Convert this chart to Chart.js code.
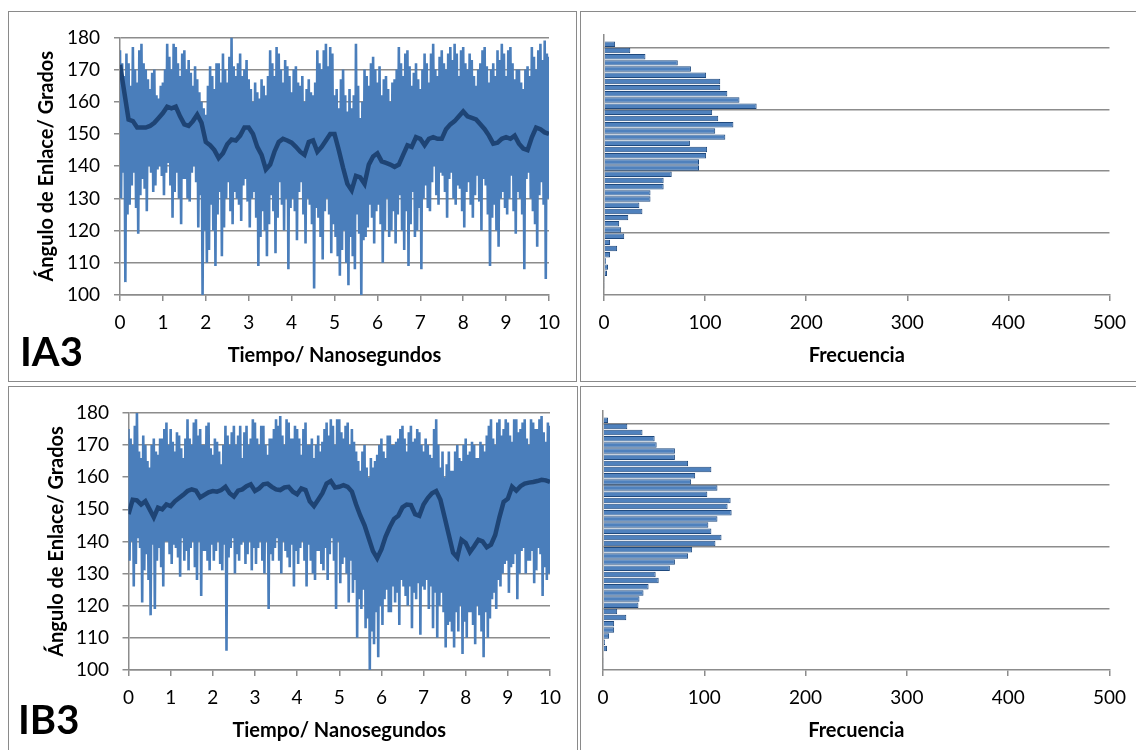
<!DOCTYPE html>
<html><head><meta charset="utf-8">
<script src="https://cdn.jsdelivr.net/npm/chart.js@4.4.0/dist/chart.umd.min.js"></script>
<style>
html,body{margin:0;padding:0;background:#fff;width:1136px;height:750px;overflow:hidden;}
.panel{position:absolute;border:1.5px solid #8a8a8a;box-sizing:border-box;}
canvas{position:absolute;}
.tag{position:absolute;font-family:Lato;font-weight:700;font-size:40px;line-height:1;color:#000;}
</style></head><body>
<div class="panel" style="left:8px;top:11px;width:569px;height:371px"></div>
<div class="panel" style="left:580px;top:11px;width:570px;height:371px"></div>
<div class="panel" style="left:8px;top:386px;width:570px;height:380px"></div>
<div class="panel" style="left:580px;top:386px;width:570px;height:380px"></div>
<canvas id="cA" width="567" height="369" style="left:9px;top:12px"></canvas>
<canvas id="cB" width="554" height="369" style="left:582px;top:12px"></canvas>
<canvas id="cC" width="568" height="362" style="left:9px;top:388px"></canvas>
<canvas id="cD" width="554" height="362" style="left:582px;top:388px"></canvas>
<div class="tag" style="left:20px;top:331px">IA3</div>
<div class="tag" style="left:18px;top:699px">IB3</div>
<script>
// ---- Time series IA3 (ns 0..10): peaks/troughs read every 0.1 ns (4 samples per 0.1 ns) ----
const IA3_hi = [176,168,172,177,166,178,170,164,170,161,
  166,178,170,177,168,176,173,165,167,160,
  156,171,164,172,175,166,180,168,175,170,
  167,160,163,167,162,176,168,175,166,171,
  163,171,165,160,167,162,176,170,178,177,
  162,158,170,157,158,178,155,170,165,174,
  166,162,168,160,167,177,168,176,165,172,
  164,175,166,178,168,176,170,177,178,168,
  177,170,173,165,172,177,166,172,176,178,
  168,177,167,170,164,171,177,170,178,179,
  174];
const IA3_lo = [130,104,128,138,119,136,126,138,134,140,
  131,141,124,138,122,136,129,140,121,100,
  110,128,109,132,121,135,122,130,123,136,
  121,132,109,126,112,131,113,135,120,108,
  130,117,135,116,128,102,124,111,130,113,
  118,106,120,103,112,125,100,118,128,116,
  128,110,130,120,116,131,114,109,132,120,
  108,134,126,140,128,137,124,138,128,133,
  121,135,124,137,120,134,109,128,115,132,
  125,137,119,130,108,138,126,115,135,105];
const IA3_hi2 = [172,175,165,170,176,172,167,169,162,165,
  170,174,178,172,175,170,169,171,163,158,
  165,168,172,166,170,174,171,172,168,173,
  164,166,161,165,168,172,177,170,173,168,
  170,166,168,164,163,166,172,176,171,175,
  164,167,162,164,162,165,160,168,172,170,
  171,167,164,166,170,172,175,171,169,167,
  170,172,175,170,174,172,175,173,175,176,
  172,175,168,170,176,171,170,168,173,175,
  176,172,170,166,170,168,174,176,173,175];
const IA3_lo2 = [138,125,134,127,131,133,140,132,139,137,
  138,134,132,130,136,130,138,135,131,120,
  114,120,125,112,130,126,132,128,134,129,
  130,124,118,120,122,126,124,128,130,127,
  126,132,125,130,122,127,118,126,125,122,
  112,114,110,118,108,119,117,121,124,126,
  122,120,118,126,125,120,126,122,118,127,
  130,127,135,131,138,132,136,130,134,126,
  132,128,131,129,136,125,124,120,130,127,
  130,126,132,125,136,130,122,131,128,130];
const IA3_avg = [171.5,163,154.5,154,152,152,152,152.5,153.5,155,
  156.5,158.5,158,158.5,155.5,153,152.5,154,156,153.5,
  147.5,146.5,145,142.5,144,146.8,148.3,148,149.5,152,
  152,150,146,143.5,139,140.5,144.5,147.5,148.5,148,
  147.3,146,144.5,143.5,147.5,148,144.5,146,148,150,
  150,145,139.5,134.5,132.5,137,136.5,134.5,140.5,143,
  144,141.5,141,140.5,139.8,140.5,143.5,146.5,146,149,
  148.5,146.5,148.5,149,148.5,148.5,151.5,153,154,155.5,
  157,155.5,155,154.5,153,151.5,149.5,147,147.3,148.5,
  149,148.5,149.5,147,145.5,145,149,152,151.5,150.5,
  150];
// ---- Time series IB3 ----
const IB3_hi = [175,170,180,166,170,163,172,167,172,177,
  175,168,173,166,178,170,178,175,170,177,
  167,171,164,176,170,176,173,166,176,172,
  177,170,176,167,172,178,179,170,177,172,
  175,167,177,170,166,173,171,177,178,170,
  178,172,177,175,168,162,170,160,163,167,
  172,166,173,170,172,176,168,176,172,174,
  168,170,166,178,163,160,168,162,170,165,
  172,168,170,166,170,173,178,170,178,175,
  177,171,178,175,178,170,177,175,179,171,
  176];
const IB3_lo = [134,126,141,121,136,117,119,138,126,140,
  133,138,129,134,131,140,128,123,137,131,
  134,140,131,106,138,130,134,140,136,131,
  133,140,130,119,134,141,130,137,132,126,
  133,140,126,134,128,137,131,128,141,119,
  127,135,121,124,110,119,113,100,108,104,
  114,125,118,121,114,126,120,113,122,111,
  125,119,113,110,124,107,115,107,112,105,
  110,118,108,117,104,110,122,119,126,133,
  124,133,122,137,130,134,127,138,123,128];
const IB3_hi2 = [172,176,168,173,165,170,168,172,175,170,
  171,174,169,172,172,177,173,170,176,169,
  172,168,170,173,174,170,176,174,170,178,
  172,176,170,172,175,176,173,178,172,176,
  172,175,170,172,170,168,175,173,176,178,
  174,176,170,171,165,168,163,166,165,170,
  168,173,170,171,175,172,174,171,175,170,
  172,167,175,170,168,164,162,168,166,170,
  167,171,166,171,168,176,172,177,173,178,
  173,178,174,177,172,178,175,178,174,177];
const IB3_lo2 = [140,133,138,131,128,139,134,132,140,136,
  139,135,141,137,138,132,140,137,134,139,
  137,133,139,135,141,136,139,133,140,138,
  138,134,140,136,138,134,140,135,139,137,
  138,134,139,130,137,133,138,136,134,140,
  133,130,134,128,122,125,116,112,118,120,
  122,118,126,124,128,123,126,124,127,126,
  128,126,124,120,118,114,112,118,120,115,
  118,114,120,112,118,116,124,128,130,134,
  132,136,130,138,134,137,131,136,132,130];
const IB3_avg = [148.5,153,152.8,151.5,152.5,150,147.5,150.5,150,151.5,
  151,152.5,153.5,154.5,155.7,156.2,155.8,153.7,154.5,155.3,
  155.7,155.5,156,157,155,154,155.8,156.2,157.2,157.8,
  155.7,156.5,157.8,158,157,156.2,156,156.8,157,155.5,
  154.7,156.5,156,152.5,151,153,155,158,158.8,156.8,
  157,157.5,157,155.5,151.5,148,145,141,137,134.8,
  137.5,141.5,144.5,147,148,150.6,151.5,151.3,148.5,148,
  151.5,153.5,155,155.7,153,147.5,142,136.5,135,140.5,
  139.5,136.7,138.5,140.5,140,138.2,139,142,147.5,152.3,
  153.3,157,155.8,157.2,158,158.3,158.5,158.8,159.2,159,
  158.5];
// ---- Histograms (angle bins, top = highest) ----
const BINS = ['180','178','176','174','172','170','168','166','164','162',
  '160','158','156','154','152','150','148','146','144','142',
  '140','138','136','134','132','130','128','126','124','122',
  '120','118','116','114','112','110','108','106','104','102',
  '100','98'];
const IA3_freq = [0,11,26,41,73,86,101,115,115,122,
  134,151,107,113,128,110,120,85,102,101,
  94,94,67,59,59,46,46,35,38,24,
  15,17,20,6,13,6,2,4,3,1,
  1,0];
const IB3_freq = [0,5,24,39,51,53,71,71,84,107,
  91,87,113,103,126,123,127,113,104,107,
  117,111,88,84,71,66,52,55,45,40,
  36,35,14,23,11,11,6,2,4,0,
  1,1];

Chart.defaults.font.family = 'Lato';
const GRID = '#8c8c8c';
const LIGHT = '#4A7EBB';
const DARK = '#1E4475';

function noisePts(hi, lo, hi2, lo2){
  const pts=[];
  for(let i=0;i<hi.length;i++){
    pts.push({x:i/10, y:hi[i]});
    if(i<lo.length){
      pts.push({x:i/10+0.025, y:lo[i]});
      pts.push({x:i/10+0.05, y:hi2[i]});
      pts.push({x:i/10+0.075, y:lo2[i]});
    }
  }
  return pts;
}
function avgPts(a){ return a.map((v,i)=>({x:i/10, y:v})); }

function lineChart(id, S, o){
  new Chart(document.getElementById(id), {
    type:'line',
    data:{datasets:[
      {data:avgPts(S.avg), borderColor:DARK, borderWidth:4.5, pointRadius:0, tension:0},
      {data:noisePts(S.hi,S.lo,S.hi2,S.lo2), borderColor:LIGHT, borderWidth:2.6, pointRadius:0, tension:0}
    ]},
    options:{
      responsive:false, animation:false, events:[],
      layout:{padding:{left:o.pl, right:o.pr, top:23, bottom:0}},
      plugins:{legend:{display:false}, tooltip:{enabled:false}},
      scales:{
        x:{type:'linear', min:0, max:10, afterFit:s=>{s.height=o.xh;},
          ticks:{stepSize:1, color:'#000', font:{size:19}, padding:10, maxRotation:0},
          grid:{drawOnChartArea:false, color:GRID, lineWidth:1.5, tickLength:6},
          border:{color:GRID, width:1.5},
          title:{display:true, text:'Tiempo/ Nanosegundos', color:'#000', font:{size:20, weight:'bold'}, padding:{top:0, bottom:o.xtb}}},
        y:{type:'linear', min:100, max:180, afterFit:s=>{s.width=100;},
          ticks:{stepSize:10, color:'#000', font:{size:19}, padding:o.ytp},
          grid:{color:GRID, lineWidth:1.5, tickLength:6},
          border:{color:GRID, width:1.5},
          title:{display:true, text:'Ángulo de Enlace/ Grados', color:'#000', font:{size:20, weight:'bold'}, padding:{top:o.ytt, bottom:0}}}
      }
    }
  });
}
function histChart(id, freq, o){
  new Chart(document.getElementById(id), {
    type:'bar',
    data:{labels:BINS, datasets:[{data:freq, backgroundColor:'#4F81BD', borderColor:'#1F497D', borderWidth:1, barPercentage:0.88, categoryPercentage:1}]},
    options:{
      indexAxis:'y', responsive:false, animation:false, events:[],
      layout:{padding:{left:o.pl, right:o.pr, top:23, bottom:0}},
      plugins:{legend:{display:false}, tooltip:{enabled:false}},
      scales:{
        x:{type:'linear', min:0, max:500, afterFit:s=>{s.height=o.xh;},
          ticks:{stepSize:100, color:'#000', font:{size:19}, padding:10, maxRotation:0},
          grid:{drawOnChartArea:false, color:GRID, lineWidth:1.5, tickLength:6},
          border:{color:GRID, width:1.5},
          title:{display:true, text:'Frecuencia', color:'#000', font:{size:20, weight:'bold'}, padding:{top:0, bottom:o.xtb}}},
        y:{type:'category', afterFit:s=>{s.width=0;},
          ticks:{display:false, autoSkip:false},
          grid:{drawTicks:false, lineWidth:1.5, color:c=>(c.index%10===2)?GRID:'rgba(0,0,0,0)'},
          border:{color:GRID, width:1.5}}
      }
    }
  });
}
lineChart('cA', {hi:IA3_hi, lo:IA3_lo, hi2:IA3_hi2, lo2:IA3_lo2, avg:IA3_avg}, {pl:11, pr:27, xh:86, xtb:13, ytp:14, ytt:15});
lineChart('cC', {hi:IB3_hi, lo:IB3_lo, hi2:IB3_hi2, lo2:IB3_lo2, avg:IB3_avg}, {pl:19.5, pr:27, xh:80, xtb:7, ytp:13.5, ytt:16.5});
histChart('cB', IA3_freq, {pl:22, pr:26, xh:86, xtb:13});
histChart('cD', IB3_freq, {pl:21, pr:24, xh:80, xtb:7});
</script>
</body></html>
